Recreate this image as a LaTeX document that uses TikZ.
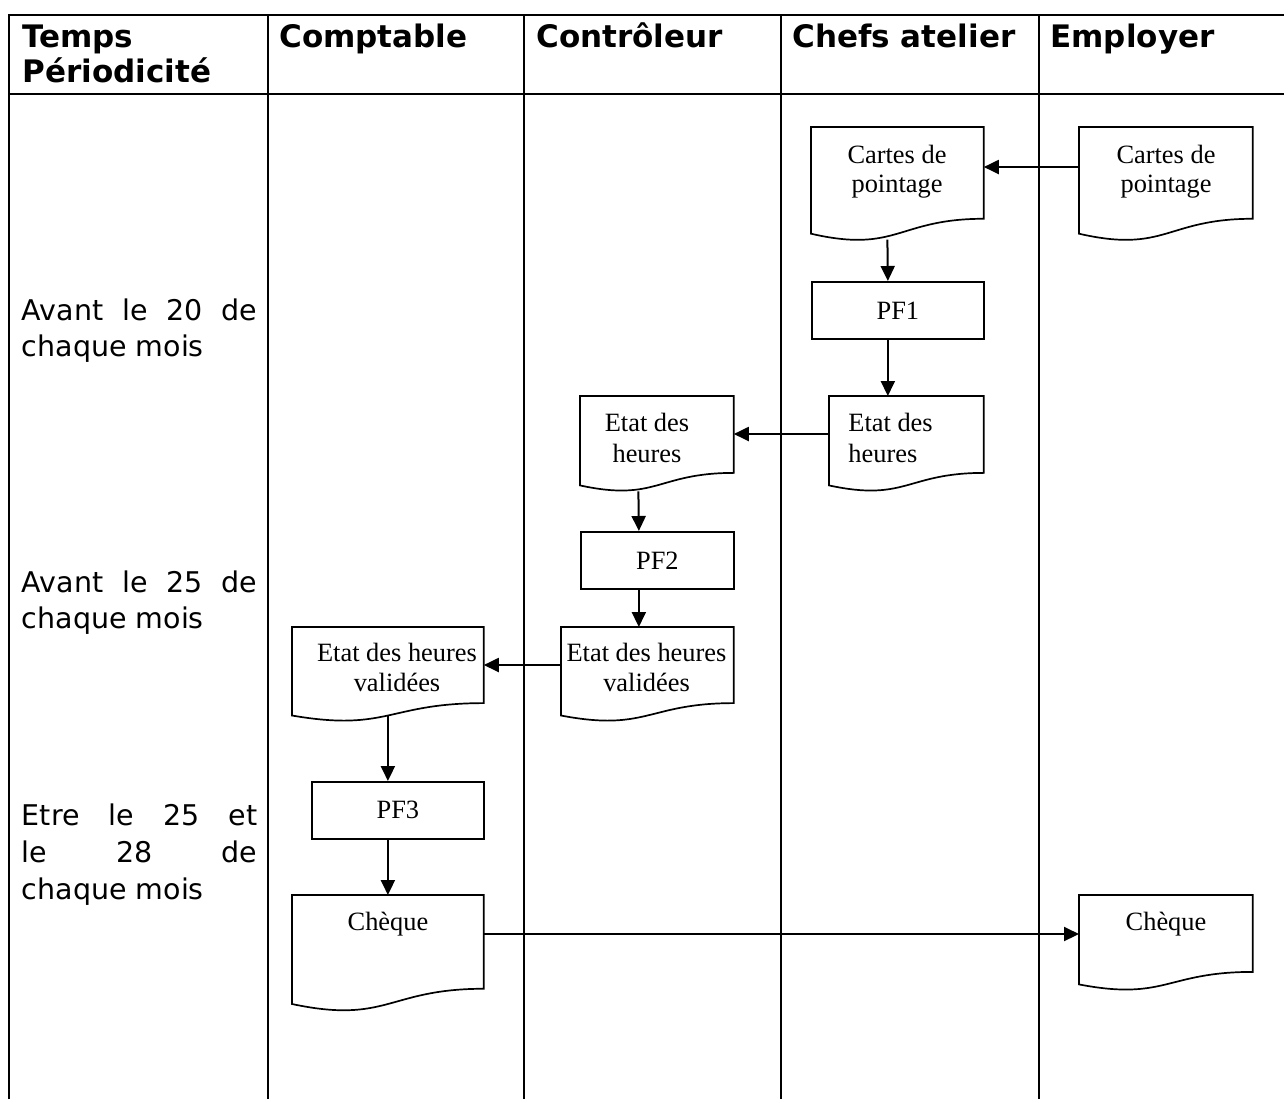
\documentclass[tikz,border=0pt]{standalone}
\usepackage{fontspec}
\setmainfont{Liberation Serif}
\newfontfamily\verd{DejaVu Sans}
\usetikzlibrary{arrows.meta,calc}
\newcommand\mydocpath[1]{\draw[shp] (#1.north west) -- (#1.north east) -- ($(#1.north east)!0.86!(#1.south east)$) .. controls ($(#1.north)!0.86!(#1.south)$) and ($(#1.north)!1.1865!(#1.south)$) .. (#1.south west) -- cycle;}
\tikzset{
  grid/.style={line width=1.3pt},
  shp/.style={line width=0.85pt},
  arr/.style={line width=1pt,-{Triangle[length=7.5pt,width=7pt]}},
  docnode/.style={anchor=north west, inner sep=0pt, draw=none, minimum height=#1},
  procbox/.style={anchor=north west, inner sep=0pt, draw, line width=0.85pt, minimum height=28.5pt, font=\fontsize{13.2}{15}\selectfont},
  boxtxt/.style={anchor=base, inner sep=0pt, font=\fontsize{13.2}{15}\selectfont},
  boxtxtl/.style={anchor=base west, inner sep=0pt, font=\fontsize{13.2}{15}\selectfont},
  head/.style={anchor=base west, inner sep=0pt, font=\verd\bfseries\fontsize{15.5}{18}\selectfont},
  side/.style={anchor=base west, inner sep=0pt, font=\verd\fontsize{14.25}{17}\selectfont},
}
\begin{document}
\begin{tikzpicture}[x=0.5pt,y=-0.5pt]
\useasboundingbox (0,0) rectangle (1284,1099);
% table
\draw[grid] (9,1099) -- (9,15) -- (1284,15);
\draw[grid] (9,94) -- (1284,94);
\foreach \xx in {268,524,781,1039} \draw[grid] (\xx,15) -- (\xx,1099);
% headers
\node[head] (h0a) at (22,47) {Temps};
\node[head] (h0b) at (22,82) {Périodicité};
\node[head] (h1) at (279,47) {Comptable};
\node[head] (h2) at (536,47) {Contrôleur};
\node[head] (h3) at (792,47) {Chefs atelier};
\node[head] (h4) at (1050,47) {Employer};
% side texts
\node[side] (s1a) at (21.5,320) {\makebox[117.75pt][s]{Avant le 20 de}};
\node[side] (s1b) at (21.5,356) {chaque mois};
\node[side] (s2a) at (21.5,592) {\makebox[117.75pt][s]{Avant le 25 de}};
\node[side] (s2b) at (21.5,628) {chaque mois};
\node[side] (s3a) at (21.5,825) {\makebox[117.75pt][s]{Etre le 25 et}};
\node[side] (s3b) at (21.5,862) {\makebox[117.75pt][s]{le 28 de}};
\node[side] (s3c) at (21.5,899) {chaque mois};
% documents and process boxes
\node[docnode=52.95pt, minimum width=86pt] (cartesC) at (811,127) {};
\node[docnode=52.95pt, minimum width=86.5pt] (cartesE) at (1079,127) {};
\node[procbox, minimum width=86pt] (pf1) at (811,281) {PF1};
\node[docnode=44.3pt, minimum width=77pt] (etatC) at (829,396) {};
\node[docnode=44.3pt, minimum width=76.5pt] (etatK) at (580,396) {};
\node[procbox, minimum width=76.5pt] (pf2) at (580,531) {PF2};
\node[docnode=43.85pt, minimum width=86pt] (validK) at (561,627) {};
\node[docnode=43.85pt, minimum width=95.5pt] (validA) at (292,627) {};
\node[procbox, minimum width=86pt] (pf3) at (311,781) {PF3};
\node[docnode=54.1pt, minimum width=95.5pt] (chequeA) at (292,895) {};
\node[docnode=44.3pt, minimum width=86.5pt] (chequeE) at (1079,895) {};
\mydocpath{cartesC}
\mydocpath{cartesE}
\mydocpath{etatC}
\mydocpath{etatK}
\mydocpath{validK}
\mydocpath{validA}
\mydocpath{chequeA}
\mydocpath{chequeE}
% texts in documents
\node[boxtxt] (cartesCa) at (897,163) {Cartes de};
\node[boxtxt] (cartesCb) at (897,192) {pointage};
\node[boxtxt] (cartesEa) at (1166,163) {Cartes de};
\node[boxtxt] (cartesEb) at (1166,192) {pointage};
\node[boxtxtl] (etatCa) at (848,431) {Etat des};
\node[boxtxtl] (etatCb) at (848,462) {heures};
\node[boxtxt] (etatKa) at (647,431) {Etat des};
\node[boxtxt] (etatKb) at (647,462) {heures};
\node[boxtxt] (validKa) at (646.5,661) {Etat des heures};
\node[boxtxt] (validKb) at (646.5,691) {validées};
\node[boxtxt] (validAa) at (397,661) {Etat des heures};
\node[boxtxt] (validAb) at (397,691) {validées};
\node[boxtxt] (chequeAa) at (388,930) {Chèque};
\node[boxtxt] (chequeEa) at (1166,930) {Chèque};
% connectors
\draw[arr] ([yshift=-20pt]cartesE.north west) -- ([yshift=-20pt]cartesC.north east);
\draw[arr] ([xshift=-5pt,yshift=-3pt]cartesC.south) -- ([xshift=-5pt]pf1.north);
\draw[arr] ([xshift=-5pt]pf1.south) -- ([xshift=-5pt]pf1.south |- etatC.north);
\draw[arr] ([yshift=-19pt]etatC.north west) -- ([yshift=-19pt]etatK.north east);
\draw[arr] ([xshift=-9.25pt,yshift=-3pt]etatK.south) -- ([xshift=-9.25pt]pf2.north);
\draw[arr] ([xshift=-9.25pt]pf2.south) -- ([xshift=-9.25pt]pf2.south |- validK.north);
\draw[arr] ([yshift=-19pt]validK.north west) -- ([yshift=-19pt]validA.north east);
\draw[arr] (validA.south) -- (validA.south |- pf3.north);
\draw[arr] (chequeA.north |- pf3.south) -- (chequeA.north);
\draw[arr] ([yshift=-19.5pt]chequeA.north east) -- ([yshift=-19.5pt]chequeE.north west);
\end{tikzpicture}
\end{document}
